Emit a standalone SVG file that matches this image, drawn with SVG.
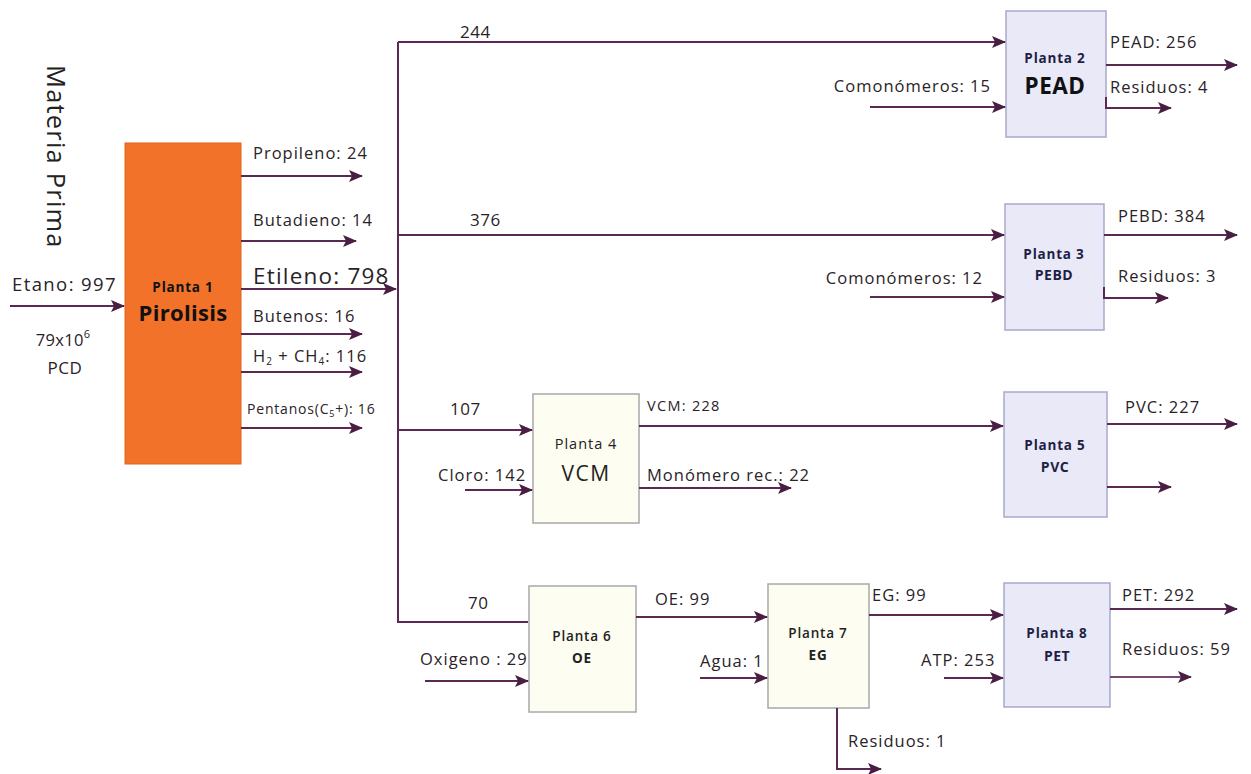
<svg xmlns="http://www.w3.org/2000/svg" width="1251" height="774" viewBox="0 0 1251 774">
<style>
text{font-family:"Open Sans",Lato,"Liberation Sans",sans-serif;fill:#2a2228;letter-spacing:1px}
.lbl{font-size:16.5px}
.big{font-size:17px;letter-spacing:0.5px}
.pt{font-size:13.5px;font-weight:bold;text-anchor:middle;fill:#1f1f45;letter-spacing:0.8px}
.pn{font-size:14px;font-weight:bold;text-anchor:middle;fill:#1f1f45;letter-spacing:0.5px}
.ln{fill:none;stroke:#5a2850;stroke-width:2}
.lv{fill:#e9e9f8;stroke:#a9a9cc;stroke-width:1.5}
.cr{fill:#fdfdf1;stroke:#a8a8a8;stroke-width:1.5}
</style>
<defs>
<marker id="ah" markerUnits="userSpaceOnUse" markerWidth="14" markerHeight="12" refX="13" refY="6" orient="auto">
<path d="M0,0 L14,6 L0,12 L3,6 Z" fill="#4a1e42"/>
</marker>
</defs>
<rect width="1251" height="774" fill="#ffffff"/>

<text x="47" y="65" transform="rotate(90 47 65)" style="font-size:25.5px;fill:#222;letter-spacing:1.2px">Materia Prima</text>

<g id="planta1">
<rect x="125" y="143" width="116" height="321" fill="#f3722a" stroke="#e0631c" stroke-width="1"/>
<text x="183" y="292" class="pt" style="fill:#111">Planta 1</text>
<text x="183" y="321" style="font-size:22px;font-weight:bold;text-anchor:middle;fill:#111;letter-spacing:0.3px">Pirolisis</text>
</g>

<g id="planta2">
<rect x="1006" y="11" width="100" height="126" class="lv"/>
<text x="1055" y="63" class="pt">Planta 2</text>
<text x="1055" y="94" style="font-size:22.5px;font-weight:bold;text-anchor:middle;fill:#111;letter-spacing:0.5px">PEAD</text>
</g>
<g id="planta3">
<rect x="1005" y="204" width="99" height="126" class="lv"/>
<text x="1054" y="259" class="pt">Planta 3</text>
<text x="1054" y="280" class="pn">PEBD</text>
</g>
<g id="planta4">
<rect x="533" y="394" width="106" height="129" class="cr"/>
<text x="586" y="449" style="font-size:14.5px;text-anchor:middle;fill:#222">Planta 4</text>
<text x="586" y="481" style="font-size:21px;text-anchor:middle;fill:#222;letter-spacing:1.5px">VCM</text>
</g>
<g id="planta5">
<rect x="1004" y="392" width="103" height="125" class="lv"/>
<text x="1055" y="450" class="pt">Planta 5</text>
<text x="1055" y="472" class="pn">PVC</text>
</g>
<g id="planta6">
<rect x="529" y="586" width="107" height="126" class="cr"/>
<text x="582" y="641" class="pt" style="fill:#222;font-weight:600">Planta 6</text>
<text x="582" y="663" class="pt" style="fill:#222">OE</text>
</g>
<g id="planta7">
<rect x="768" y="584" width="101" height="124" class="cr"/>
<text x="818" y="638" class="pt" style="fill:#222;font-weight:600">Planta 7</text>
<text x="818" y="660" class="pt" style="fill:#222">EG</text>
</g>
<g id="planta8">
<rect x="1004" y="583" width="106" height="124" class="lv"/>
<text x="1057" y="638" class="pt">Planta 8</text>
<text x="1057" y="661" class="pn">PET</text>
</g>

<g id="connectors">
<line x1="10" y1="306" x2="124" y2="306" class="ln" marker-end="url(#ah)"/>
<line x1="241" y1="176" x2="362" y2="176" class="ln" marker-end="url(#ah)"/>
<line x1="241" y1="241" x2="356" y2="241" class="ln" marker-end="url(#ah)"/>
<line x1="241" y1="289" x2="396" y2="289" class="ln" marker-end="url(#ah)"/>
<line x1="241" y1="334" x2="362" y2="334" class="ln" marker-end="url(#ah)"/>
<line x1="241" y1="372" x2="362" y2="372" class="ln" marker-end="url(#ah)"/>
<line x1="241" y1="428" x2="362" y2="428" class="ln" marker-end="url(#ah)"/>
<line x1="398" y1="42" x2="398" y2="623" class="ln"/>
<line x1="398" y1="42" x2="1005" y2="42" class="ln" marker-end="url(#ah)"/>
<line x1="398" y1="235" x2="1004" y2="235" class="ln" marker-end="url(#ah)"/>
<line x1="398" y1="430" x2="532" y2="430" class="ln" marker-end="url(#ah)"/>
<line x1="398" y1="622" x2="528" y2="622" class="ln"/>
<line x1="870" y1="107" x2="1005" y2="107" class="ln" marker-end="url(#ah)"/>
<line x1="1106" y1="65" x2="1237" y2="65" class="ln" marker-end="url(#ah)"/>
<path d="M1106,97 V108 H1171" class="ln" marker-end="url(#ah)"/>
<line x1="870" y1="297" x2="1004" y2="297" class="ln" marker-end="url(#ah)"/>
<line x1="1104" y1="235" x2="1237" y2="235" class="ln" marker-end="url(#ah)"/>
<path d="M1104,287 V298 H1168" class="ln" marker-end="url(#ah)"/>
<line x1="465" y1="490" x2="532" y2="490" class="ln" marker-end="url(#ah)"/>
<line x1="639" y1="426" x2="1003" y2="426" class="ln" marker-end="url(#ah)"/>
<line x1="639" y1="488" x2="791" y2="488" class="ln" marker-end="url(#ah)"/>
<line x1="1107" y1="424" x2="1237" y2="424" class="ln" marker-end="url(#ah)"/>
<line x1="1107" y1="487" x2="1171" y2="487" class="ln" marker-end="url(#ah)"/>
<line x1="425" y1="681" x2="528" y2="681" class="ln" marker-end="url(#ah)"/>
<line x1="636" y1="617" x2="767" y2="617" class="ln" marker-end="url(#ah)"/>
<line x1="700" y1="678" x2="767" y2="678" class="ln" marker-end="url(#ah)"/>
<path d="M837,708 V769 H881" class="ln" marker-end="url(#ah)"/>
<line x1="869" y1="615" x2="1003" y2="615" class="ln" marker-end="url(#ah)"/>
<line x1="944" y1="678" x2="1003" y2="678" class="ln" marker-end="url(#ah)"/>
<line x1="1110" y1="609" x2="1237" y2="609" class="ln" marker-end="url(#ah)"/>
<line x1="1110" y1="677" x2="1191" y2="677" class="ln" style="stroke:#7a4a70" marker-end="url(#ah)"/>
</g>

<g id="labels">
<text x="12" y="291" style="font-size:18.5px;letter-spacing:1.4px">Etano: 997</text>
<text x="63" y="346" style="font-size:16.5px;letter-spacing:0.3px" text-anchor="middle">79x10<tspan dy="-8" style="font-size:11px">6</tspan></text>
<text x="65" y="374" style="font-size:17px;letter-spacing:0.5px" text-anchor="middle">PCD</text>
<text x="253" y="159" class="lbl">Propileno: 24</text>
<text x="253" y="226" class="lbl">Butadieno: 14</text>
<text x="253" y="284" style="font-size:22.5px;letter-spacing:1.2px">Etileno: 798</text>
<text x="253" y="322" class="lbl">Butenos: 16</text>
<text x="253" y="362" class="lbl">H<tspan dy="3" style="font-size:10px">2</tspan><tspan dy="-3"> + CH</tspan><tspan dy="3" style="font-size:10px">4</tspan><tspan dy="-3">:  116</tspan></text>
<text x="247" y="414" style="font-size:14px;letter-spacing:0.8px">Pentanos(C<tspan dy="3" style="font-size:9px">5</tspan><tspan dy="-3">+): 16</tspan></text>
<text x="460" y="38" class="big">244</text>
<text x="470" y="226" class="big">376</text>
<text x="450" y="415" class="big">107</text>
<text x="468" y="609" class="big">70</text>
<text x="991" y="92" class="lbl" text-anchor="end">Comonómeros: 15</text>
<text x="1110" y="48" class="lbl">PEAD: 256</text>
<text x="1110" y="93" class="lbl">Residuos: 4</text>
<text x="983" y="284" class="lbl" text-anchor="end">Comonómeros: 12</text>
<text x="1118" y="222" class="lbl">PEBD: 384</text>
<text x="1118" y="282" class="lbl">Residuos: 3</text>
<text x="438" y="481" class="lbl">Cloro: 142</text>
<text x="647" y="411" style="font-size:14.5px;letter-spacing:1.3px">VCM: 228</text>
<text x="647" y="481" class="lbl">Monómero rec.: 22</text>
<text x="1125" y="413" class="lbl">PVC: 227</text>
<text x="420" y="665" class="lbl">Oxigeno : 29</text>
<text x="655" y="605" class="lbl">OE: 99</text>
<text x="700" y="667" class="lbl">Agua: 1</text>
<text x="848" y="747" class="lbl">Residuos: 1</text>
<text x="872" y="601" class="lbl">EG: 99</text>
<text x="921" y="666" class="lbl">ATP: 253</text>
<text x="1122" y="601" class="lbl">PET: 292</text>
<text x="1122" y="655" class="lbl">Residuos: 59</text>
</g>
</svg>
